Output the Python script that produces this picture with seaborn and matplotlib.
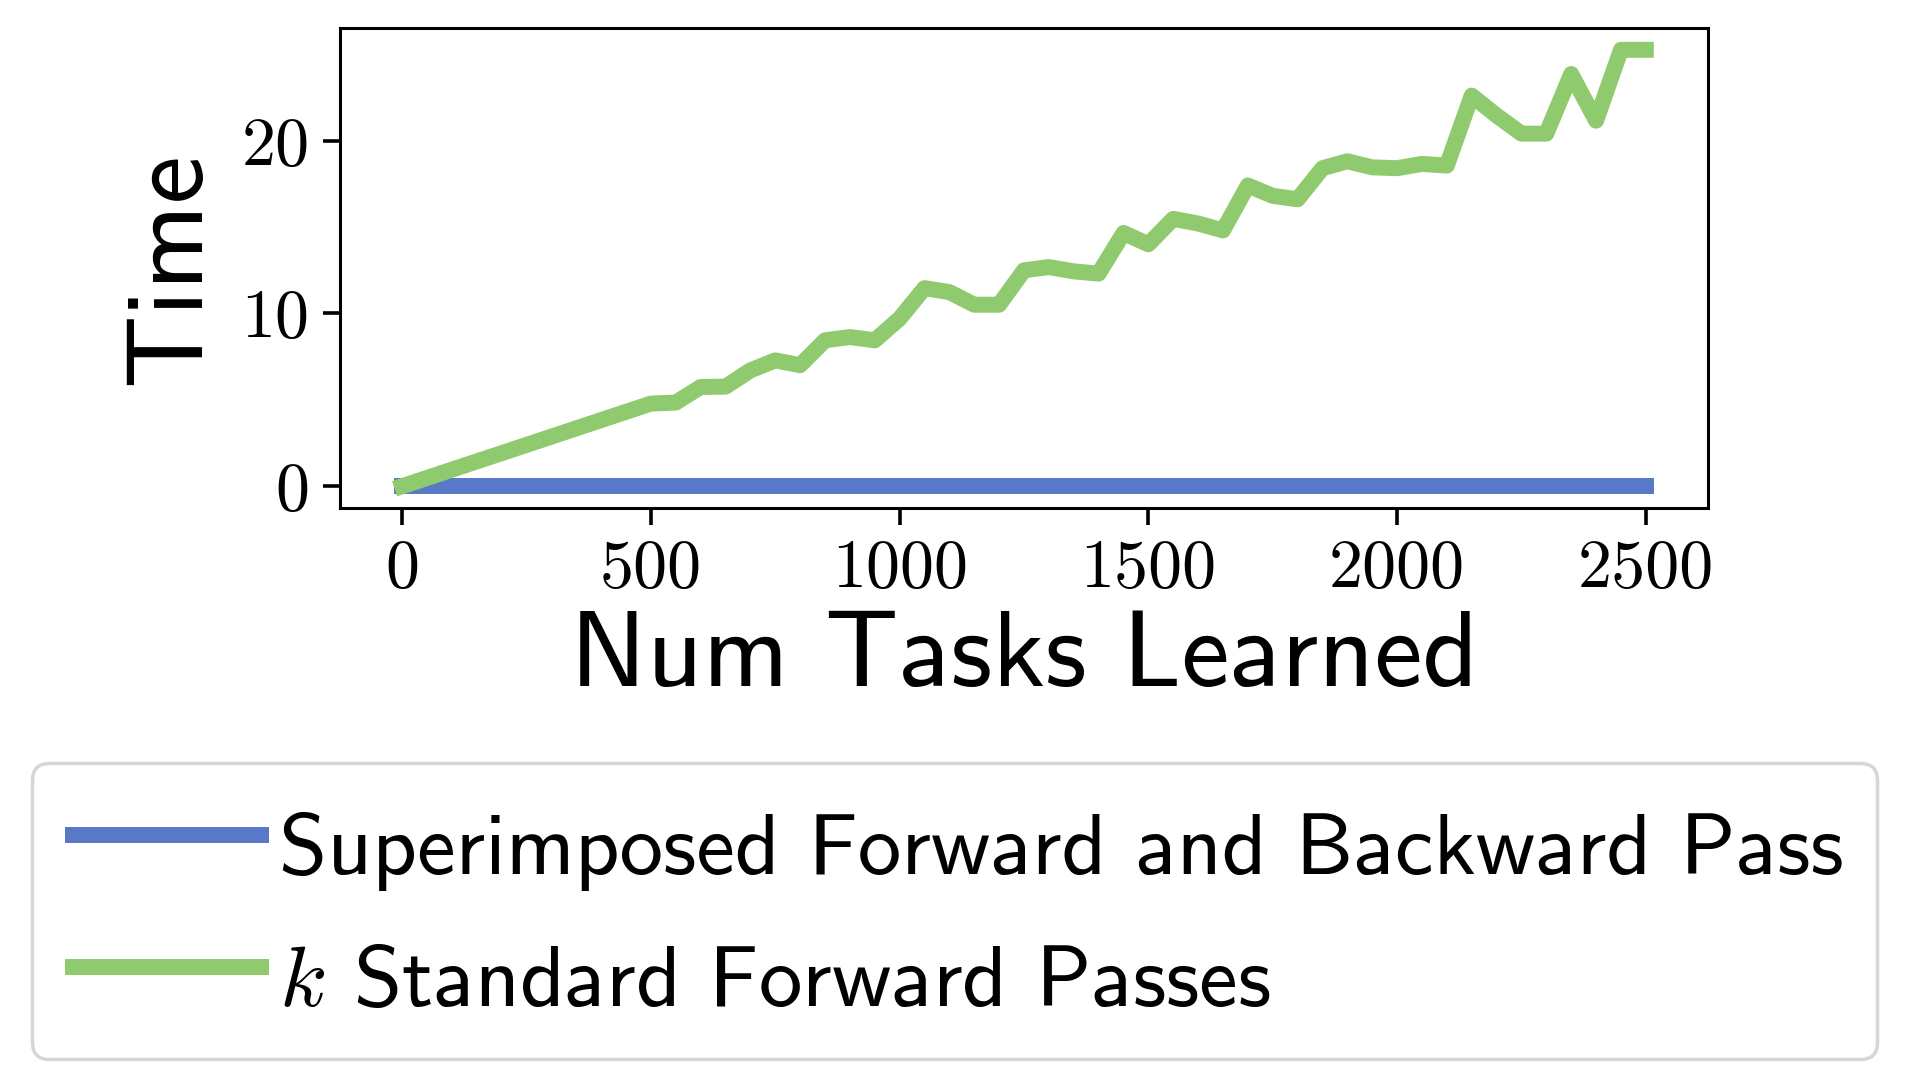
import matplotlib
matplotlib.use("Agg")
import matplotlib.pyplot as plt
import seaborn as sns
import pandas as pd
from matplotlib.lines import Line2D

# ---- data ----
num_tasks = [0, 500, 550, 600, 650, 700, 750, 800, 850, 900, 950, 1000, 1050, 1100,
             1150, 1200, 1250, 1300, 1350, 1400, 1450, 1500, 1550, 1600, 1650, 1700,
             1750, 1800, 1850, 1900, 1950, 2000, 2050, 2100, 2150, 2200, 2250, 2300,
             2350, 2400, 2450, 2500]
superimposed_time = [0.0] * len(num_tasks)
standard_time = [0.0, 4.78, 4.84, 5.74, 5.76, 6.7, 7.28, 7.0, 8.44, 8.63, 8.44, 9.7,
                 11.46, 11.23, 10.5, 10.5, 12.49, 12.68, 12.43, 12.3, 14.65, 14.0,
                 15.47, 15.2, 14.8, 17.4, 16.8, 16.6, 18.4, 18.8, 18.45, 18.4, 18.65,
                 18.55, 22.6, 21.45, 20.4, 20.4, 23.85, 21.15, 25.25, 25.25]
series_labels = ["Superimposed Forward and Backward Pass", "$k$ Standard Forward Passes"]
series_colors = ["#5a78c8", "#8fcb6e"]
x_ticks = [0, 500, 1000, 1500, 2000, 2500]
y_ticks = [0, 10, 20]

df = pd.DataFrame({
    "tasks": num_tasks * 2,
    "time": superimposed_time + standard_time,
    "method": [series_labels[0]] * len(num_tasks) + [series_labels[1]] * len(num_tasks),
})

sns.set_style("ticks")
plt.rcParams["font.family"] = ["cmss10", "DejaVu Sans"]
plt.rcParams["mathtext.fontset"] = "cm"
plt.rcParams["axes.formatter.use_mathtext"] = False
plt.rcParams["axes.unicode_minus"] = False
for k in ["text.color", "axes.labelcolor", "xtick.color", "ytick.color",
          "xtick.labelcolor", "ytick.labelcolor", "axes.edgecolor"]:
    plt.rcParams[k] = "black"

W, H = 1909, 1082
fig = plt.figure(figsize=(W / 100, H / 100), dpi=100)
ax = fig.add_axes([340 / W, 1 - 508 / H, (1708 - 340) / W, (508 - 28) / H])

lw = 11.5
sns.lineplot(data=df, x="tasks", y="time", hue="method", palette=series_colors,
             hue_order=series_labels, linewidth=lw, ax=ax, legend=False, sort=False,
             solid_capstyle="projecting", solid_joinstyle="round")

for s in ax.spines.values():
    s.set_linewidth(2.2)
    s.set_color("black")
ax.set_xticks(x_ticks)
ax.set_yticks(y_ticks)
ax.tick_params(axis="both", which="major", length=12, width=2.6, direction="out",
               labelsize=49, color="black", pad=10, labelfontfamily="cmr10")
ax.set_xlabel("Num Tasks Learned", fontsize=78, labelpad=8)
ax.set_ylabel("Time", fontsize=78, labelpad=15)

handles = [Line2D([], [], color=c, linewidth=lw, solid_capstyle="butt") for c in series_colors]
leg = fig.legend(handles, series_labels, loc="upper center",
                 bbox_to_anchor=(0.5, 1 - 763 / H), fontsize=62.5, frameon=True,
                 fancybox=True, edgecolor="0.84", framealpha=1.0,
                 handlelength=2.35, handletextpad=0.12, borderpad=0.38,
                 labelspacing=0.38, handleheight=1.37, borderaxespad=0)
leg.get_frame().set_linewidth(2.5)

fig.savefig("out.png", dpi=100)
